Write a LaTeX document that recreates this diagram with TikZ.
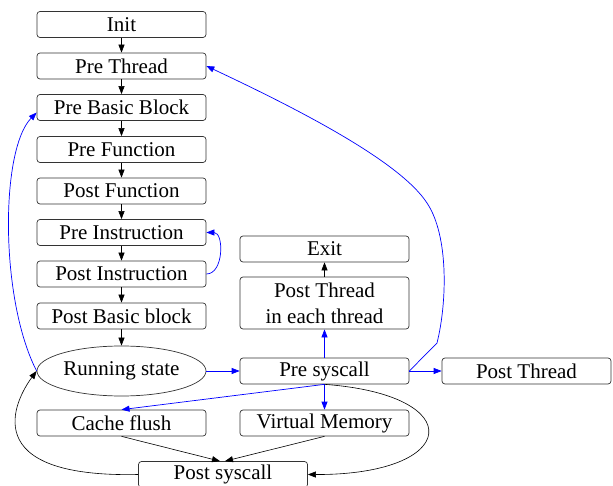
\documentclass[tikz,border=0pt]{standalone}
\usepackage{fontspec}
\setmainfont{Liberation Serif}
\usetikzlibrary{arrows.meta,shapes.geometric}
\begin{document}
\begin{tikzpicture}[x=1pt,y=-1pt,
  box/.style={draw=black!80,rounded corners=3pt,minimum width=169pt,minimum height=26pt,inner sep=0pt,font=\fontsize{21}{26}\selectfont,line width=0.7pt},
  oval/.style={draw=black!80,ellipse,minimum width=169pt,minimum height=50pt,inner sep=0pt,font=\fontsize{21}{26}\selectfont,line width=0.7pt},
  arr/.style={line width=0.6pt,-{Triangle[length=8pt,width=6pt]}},
  barr/.style={arr,blue,line width=0.7pt}]
\useasboundingbox (0,0) rectangle (613,486);
\node[box] (init) at (121.5,24.5) {Init};
\node[box] (pt) at (121.5,66) {Pre Thread};
\node[box] (pbb) at (121.5,107.5) {Pre Basic Block};
\node[box] (pf) at (121.5,149.5) {Pre Function};
\node[box] (pof) at (121.5,191) {Post Function};
\node[box] (pri) at (121.5,232.5) {Pre Instruction};
\node[box] (poi) at (121.5,274) {Post Instruction};
\node[box] (pobb) at (121.5,316) {Post Basic block};
\node[oval] (rs) at (121.5,371) {Running state};
\node[box] (cf) at (121.5,423) {Cache flush};
\node[box] (psys) at (223,474.5) {Post syscall};
\node[box] (exit) at (324.5,249) {Exit};
\node[box,minimum height=52pt,align=center] (ptt) at (324.5,303) {Post Thread\\in each thread};
\node[box] (ps) at (324.5,371) {Pre syscall};
\node[box] (vm) at (324.5,423) {Virtual Memory};
\node[box] (ptr) at (526.5,371) {Post Thread};

\draw[arr] (init) -- (pt);
\draw[arr] (pt) -- (pbb);
\draw[arr] (pbb) -- (pf);
\draw[arr] (pf) -- (pof);
\draw[arr] (pof) -- (pri);
\draw[arr] (pri) -- (poi);
\draw[arr] (poi) -- (pobb);
\draw[arr] (pobb) -- (rs);
\draw[arr] (ptt) -- (exit);

\draw[barr] (poi.east) .. controls (224,274) and (224,232.5) .. (pri.east);
\draw[barr] (rs.west) .. controls (0,300) and (0,150) .. ([yshift=-5pt]pbb.west);
\draw[barr] (rs) -- (ps);
\draw[barr] (ps) -- (ptt);
\draw[barr] (ps) -- (vm);
\draw[barr] (ps) -- (ptr);
\draw[barr] (ps.south) -- (cf.north);
\draw[barr] (ps.east) -- (437,343) .. controls (447,303) and (449,236) .. (427,203) .. controls (400,161.5) and (300,110) .. (pt.east);

\draw[arr] (cf.south) -- ([xshift=-3pt]psys.north);
\draw[arr] (vm.south) -- ([xshift=2pt]psys.north);
\draw[arr] (ps.south) .. controls (470,395) and (460,475) .. (psys.east);
\draw[arr] (psys.west) .. controls (-25,478) and (15,400) .. (rs.west);
\end{tikzpicture}
\end{document}
